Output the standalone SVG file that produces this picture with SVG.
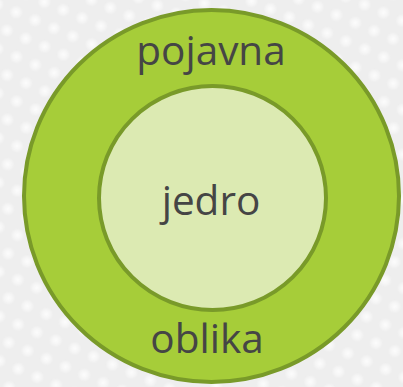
<svg xmlns="http://www.w3.org/2000/svg" width="403" height="387" viewBox="0 0 403 387">
  <defs>
    <radialGradient id="dotg">
      <stop offset="0" stop-color="#ffffff" stop-opacity="0.85"/>
      <stop offset="0.6" stop-color="#ffffff" stop-opacity="0.4"/>
      <stop offset="1" stop-color="#ffffff" stop-opacity="0"/>
    </radialGradient>
    <pattern id="dots" width="30" height="28" patternUnits="userSpaceOnUse" patternTransform="rotate(-20) translate(4 10)">
      <circle cx="7" cy="7" r="7" fill="url(#dotg)"/>
      <circle cx="22" cy="21" r="7" fill="url(#dotg)"/>
    </pattern>
    <style>
      .lbl { font-family: "Open Sans", "Noto Sans", sans-serif; font-size: 40.5px; fill: #454545; text-anchor: middle; }
      .ring { stroke: #799a29; stroke-width: 4; }
    </style>
  </defs>
  <rect width="403" height="387" fill="#eeeeee"/>
  <rect width="403" height="387" fill="url(#dots)"/>
  <g id="outer">
    <ellipse class="ring" cx="211.5" cy="196" rx="187.5" ry="186" fill="#a6cd39"/>
    <text class="lbl" x="211" y="65">pojavna</text>
    <text class="lbl" x="207" y="353">oblika</text>
  </g>
  <g id="inner">
    <ellipse class="ring" cx="212.5" cy="198" rx="113.5" ry="112" fill="#dceab2"/>
    <text class="lbl" x="211" y="215">jedro</text>
  </g>
  <g id="connectors"/>
</svg>
